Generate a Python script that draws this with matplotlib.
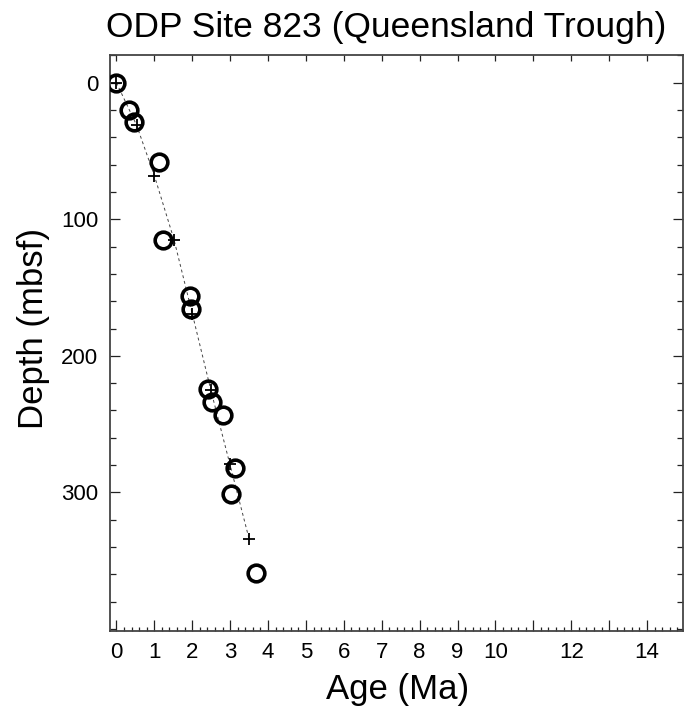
import numpy as np
import matplotlib
matplotlib.use("Agg")
import matplotlib.pyplot as plt
from matplotlib.ticker import MultipleLocator, FixedLocator

plt.rcParams['font.family'] = ['Liberation Sans', 'DejaVu Sans']

# Datum levels (open circles): age (Ma) and depth (mbsf)
datum_age = [0.0, 0.33, 0.47, 1.12, 1.24, 1.94, 1.98, 2.42, 2.53, 2.81, 3.13, 3.02, 3.68]
datum_depth = [0, 20, 29, 58, 115, 156, 166, 224, 234, 243, 282, 301, 359]

# Age model tie points (plus signs, dashed line)
model_age = [0.0, 0.53, 1.0, 1.52, 2.0, 2.49, 2.99, 3.5]
model_depth = [0, 31, 68, 115, 169, 225, 279, 334]

x_labels = [0, 1, 2, 3, 4, 5, 6, 7, 8, 9, 10, 12, 14]
y_labels = [0, 100, 200, 300]

W, H = 684, 719
fig = plt.figure(figsize=(W / 100, H / 100), dpi=100)
ax = fig.add_axes([110 / W, 1 - 631 / H, 573 / W, 576 / H])

ax.plot(model_age, model_depth, color='#444444', lw=0.7, ls=(0, (3, 3)),
        marker='+', ms=8, mew=1.3, mec='black', zorder=2)
ax.plot(datum_age, datum_depth, ls='none', marker='o', ms=12, mfc='none',
        mec='black', mew=2.6, zorder=3)

ax.set_xlim(-0.17, 14.95)
ax.set_ylim(401.5, -20.3)

ax.set_xticks(range(0, 15))
ax.set_xticklabels([str(v) if v in x_labels else '' for v in range(0, 15)])
ax.xaxis.set_minor_locator(MultipleLocator(0.2))
ax.yaxis.set_major_locator(FixedLocator(y_labels))
ax.yaxis.set_minor_locator(MultipleLocator(20))

ax.tick_params(axis='both', which='both', direction='in', right=True, top=False,
               labelsize=16, color='#222222', width=0.9)
ax.tick_params(axis='y', which='major', length=7.3, pad=8.5)
ax.tick_params(axis='y', which='minor', length=4)
ax.tick_params(axis='x', which='major', length=8, pad=8)
ax.tick_params(axis='x', which='minor', length=3)

# top axis: only unit ticks, shorter, no labels
top = ax.secondary_xaxis('top')
top.set_xticks(range(0, 16))
top.tick_params(direction='in', length=4.3, width=0.9, color='#222222',
                labeltop=False)
top.spines['top'].set_visible(False)

for s in ax.spines.values():
    s.set_linewidth(1.3)
    s.set_color('#444444')

fig.text(397.5 / W, 1 - 698.5 / H, 'Age (Ma)', fontsize=25, ha='center', va='baseline')
fig.text(34 / W, 1 - 328.5 / H, 'Depth (mbsf)', fontsize=25, rotation=90,
         ha='center', va='center')
fig.text(386 / W, 1 - 37.5 / H, 'ODP Site 823 (Queensland Trough)', fontsize=25.5,
         ha='center', va='baseline')

fig.savefig('out.png', dpi=100)
